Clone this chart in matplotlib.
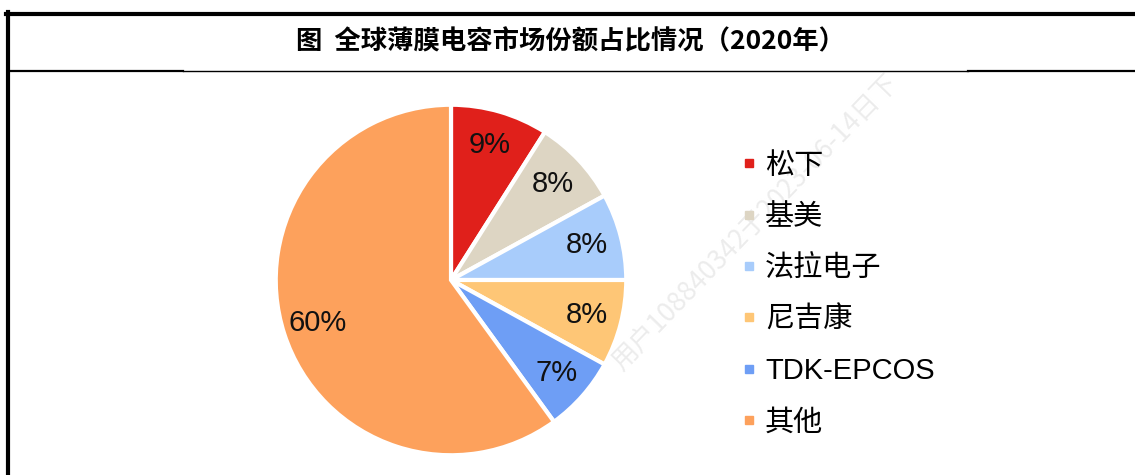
import matplotlib.pyplot as plt
from matplotlib.lines import Line2D

# data
companies = ['松下', '基美', '法拉电子', '尼吉康', 'TDK-EPCOS', '其他']
shares = [9, 8, 8, 8, 7, 60]
colors = ['#E0201B', '#DDD5C3', '#A8CCFB', '#FEC676', '#6E9EF5', '#FDA15C']
title = '图  全球薄膜电容市场份额占比情况（2020年）'
watermark = '用户108840342于2023-06-14日下'

W, H = 1135, 475
fams = ['Liberation Sans', 'Noto Sans CJK SC', 'DejaVu Sans']
plt.rcParams['font.family'] = fams

fig = plt.figure(figsize=(W / 100, H / 100), dpi=100)
fig.patch.set_facecolor('white')

# frame lines (pixel coords -> figure coords)
def fx(x):
    return x / W

def fy(y):
    return 1 - y / H

fig.add_artist(Line2D([fx(6), fx(W)], [fy(14), fy(14)], color='black', lw=3))
fig.add_artist(Line2D([fx(8), fx(8)], [fy(12), fy(H)], color='black', lw=3))
fig.add_artist(Line2D([fx(8), fx(183)], [fy(71), fy(71)], color='black', lw=1.6))
fig.add_artist(Line2D([fx(183), fx(968)], [fy(71), fy(71)], color='black', lw=1.0))
fig.add_artist(Line2D([fx(968), fx(W)], [fy(71), fy(71)], color='black', lw=1.6))

fig.text(fx(571), fy(42), title, ha='center', va='center', fontsize=19,
         fontweight='bold', family=['Noto Sans CJK SC', 'DejaVu Sans'])

# faint watermark
fig.text(fx(755), fy(222), watermark, rotation=46, ha='center', va='center',
         fontsize=19, color='#ececec', family=['Noto Sans CJK SC', 'DejaVu Sans'],
         zorder=0)

# pie
cx, cy, r = 451, 280, 177
ax = fig.add_axes([fx(cx - r), fy(cy + r), 2 * r / W, 2 * r / H])
wedges, texts, autotexts = ax.pie(
    shares, colors=colors, startangle=90, counterclock=False,
    autopct=lambda p: f'{p:.0f}%', pctdistance=0.8,
    wedgeprops=dict(edgecolor='white', linewidth=3),
    textprops=dict(fontsize=21, color='#111111'))
ax.set_xlim(-1.01, 1.01)
ax.set_ylim(-1.01, 1.01)
ax.set_aspect('equal')
ax.axis('off')

# legend
handles = [Line2D([0], [0], marker='s', linestyle='none', markersize=6,
                  markerfacecolor=c, markeredgecolor=c) for c in colors]
fig.legend(handles, companies, loc='upper left',
           bbox_to_anchor=(fx(727), fy(137)), frameon=False,
           fontsize=21, handlelength=0.5, handletextpad=0.3,
           labelspacing=0.8, borderpad=0)

fig.savefig('out.png', dpi=100, facecolor='white')
